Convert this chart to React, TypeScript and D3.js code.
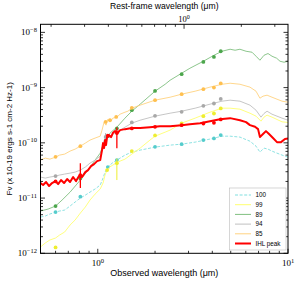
import React from 'react';
import * as d3 from 'd3';

const W = 299, H = 282;
const PL = 40.5, PR = 288, PT = 24.3, PB = 253.3;
const ONE_PLUS_Z = 2.842;

const seriesNames = ['100', '99', '89', '94', '85', 'IHL peak'];

// ---- spectra (observed wavelength in micron, flux) ----
const lam100 = [0.50,0.53,0.56,0.60,0.63,0.67,0.715,0.76,0.81,0.86,0.91,0.968,1.03,1.066,1.092,1.13,1.19,1.26,1.31,1.39,1.51,1.67,2.00,2.40,2.76,3.25,3.89,4.50,4.96,5.59,6.31,6.79,7.12,7.48,7.85,8.24,8.75,9.30,10];
const flux100 = [4.53e-12,4.73e-12,5.14e-12,5.58e-12,5.82e-12,6.07e-12,7.17e-12,8.47e-12,1.0e-11,1.13e-11,1.28e-11,1.46e-11,1.72e-11,2.30e-11,2.95e-11,3.64e-11,4.29e-11,4.87e-11,5.29e-11,6.0e-11,6.79e-11,7.38e-11,8.36e-11,9.09e-11,9.47e-11,1.03e-10,1.17e-10,1.32e-10,1.32e-10,1.27e-10,1.07e-10,8.71e-11,6.79e-11,8.02e-11,7.69e-11,7.08e-11,6.51e-11,6.0e-11,5.51e-11];

const lam99 = [0.50,0.53,0.56,0.60,0.63,0.67,0.715,0.76,0.81,0.86,0.91,0.968,1.03,1.066,1.092,1.119,1.16,1.20,1.248,1.31,1.39,1.51,1.67,1.88,2.00,2.26,2.40,2.76,3.25,3.89,4.50,4.96,5.59,6.31,6.79,7.21,7.48,7.76,8.24,8.75,9.30,10];
const flux99 = [1.30e-12,1.54e-12,1.74e-12,1.89e-12,2.14e-12,2.43e-12,3.25e-12,4.0e-12,5.35e-12,6.88e-12,9.2e-12,1.18e-11,1.46e-11,1.87e-11,2.61e-11,3.21e-11,3.68e-11,3.95e-11,4.29e-11,4.67e-11,5.07e-11,6.25e-11,8.02e-11,1.12e-10,1.32e-10,1.56e-10,1.70e-10,2.27e-10,2.80e-10,3.59e-10,4.24e-10,4.24e-10,4.07e-10,3.44e-10,3.04e-10,2.47e-10,2.92e-10,3.17e-10,2.92e-10,2.65e-10,2.40e-10,2.34e-10];

const lam89 = [0.50,0.548,0.60,0.649,0.715,0.81,0.889,0.968,1.03,1.066,1.105,1.16,1.26,1.39,1.51,1.67,2.00,2.26,2.40,2.76,3.05,3.59,4.08,4.50,4.96,5.27,5.59,6.02,6.47,6.79,7.12,7.48,7.85,8.24,8.72,9.08,9.53,10];
const flux89 = [5.82e-12,6.32e-12,7.17e-12,9.2e-12,1.28e-11,2.12e-11,3.21e-11,4.87e-11,6.51e-11,9.09e-11,1.22e-10,1.50e-10,1.92e-10,2.80e-10,3.74e-10,5.01e-10,8.61e-10,1.15e-9,1.36e-9,1.82e-9,2.24e-9,3.0e-9,3.85e-9,4.55e-9,4.95e-9,4.75e-9,4.95e-9,4.55e-9,4.37e-9,3.70e-9,3.13e-9,3.85e-9,4.14e-9,3.70e-9,3.40e-9,3.0e-9,2.88e-9,3.0e-9];

const lam94 = [0.50,0.53,0.56,0.60,0.63,0.67,0.715,0.76,0.81,0.86,0.91,0.968,1.03,1.053,1.079,1.105,1.13,1.16,1.20,1.26,1.31,1.39,1.51,1.67,2.00,2.40,2.76,3.25,3.89,4.50,4.96,5.59,6.31,6.79,7.21,7.48,7.76,8.24,8.75,9.30,10];
const flux94 = [2.40e-11,2.30e-11,2.40e-11,2.50e-11,2.61e-11,2.72e-11,2.83e-11,2.95e-11,3.21e-11,3.64e-11,4.29e-11,4.87e-11,5.75e-11,7.38e-11,1.12e-10,1.28e-10,1.38e-10,1.22e-10,1.44e-10,1.56e-10,1.70e-10,1.92e-10,2.27e-10,2.57e-10,3.04e-10,3.44e-10,3.74e-10,4.24e-10,5.01e-10,5.68e-10,5.92e-10,5.68e-10,4.81e-10,3.90e-10,2.92e-10,3.40e-10,3.74e-10,3.30e-10,3.04e-10,2.80e-10,2.57e-10];

const lam85 = [0.50,0.53,0.56,0.60,0.63,0.67,0.715,0.76,0.81,0.86,0.91,0.968,1.03,1.053,1.079,1.105,1.13,1.16,1.20,1.26,1.31,1.39,1.44,1.51,1.67,2.00,2.40,2.76,3.25,3.89,4.50,4.96,5.59,6.31,6.79,7.12,7.39,7.76,8.24,8.75,9.30,10];
const flux85 = [4.87e-11,5.29e-11,5.07e-11,5.51e-11,6.0e-11,6.25e-11,7.08e-11,7.69e-11,8.71e-11,9.88e-11,1.12e-10,1.22e-10,1.32e-10,1.70e-10,2.37e-10,2.09e-10,2.68e-10,2.37e-10,2.80e-10,2.92e-10,3.30e-10,3.59e-10,3.74e-10,4.24e-10,4.81e-10,5.92e-10,6.70e-10,7.60e-10,8.61e-10,1.02e-9,1.15e-9,1.20e-9,1.15e-9,1.02e-9,8.61e-10,6.43e-10,7.0e-10,7.29e-10,6.70e-10,6.17e-10,5.68e-10,5.44e-10];

const lamIHL = [0.50,0.516,0.535,0.555,0.575,0.60,0.619,0.641,0.665,0.690,0.715,0.742,0.769,0.797,0.827,0.86,0.889,0.922,0.956,0.992,1.03,1.053,1.066,1.079,1.092,1.105,1.119,1.146,1.175,1.20,1.233,1.27,1.31,1.39,1.51,1.67,1.88,2.12,2.40,2.76,3.05,3.45,3.89,4.39,4.96,5.59,6.02,6.31,6.71,6.96,7.12,7.39,7.66,7.95,8.34,8.75,9.19,9.64,10];
const fluxIHL = [1.87e-11,1.72e-11,1.95e-11,1.65e-11,1.87e-11,2.03e-11,1.79e-11,2.12e-11,1.87e-11,2.21e-11,1.95e-11,2.40e-11,2.03e-11,2.50e-11,2.40e-11,2.95e-11,3.21e-11,3.79e-11,4.12e-11,4.67e-11,4.87e-11,7.38e-11,9.88e-11,8.02e-11,1.12e-10,9.09e-11,1.27e-10,1.38e-10,1.27e-10,1.50e-10,1.63e-10,1.50e-10,1.70e-10,1.77e-10,1.85e-10,1.85e-10,1.92e-10,2.0e-10,2.0e-10,2.09e-10,2.18e-10,2.27e-10,2.47e-10,2.68e-10,2.80e-10,2.57e-10,2.37e-10,2.09e-10,1.95e-10,1.77e-10,1.27e-10,1.44e-10,1.63e-10,1.44e-10,1.22e-10,1.03e-10,1.03e-10,1.17e-10,1.20e-10];

// ---- photometry ----
const ptLam100 = [0.60,0.81,1.13,1.26,2.00,2.76,3.59,4.08,4.43];
const ptFlux100 = [5.58e-12,1.06e-11,3.64e-11,4.87e-11,8.47e-11,9.47e-11,1.12e-10,1.20e-10,1.38e-10];
const ptLam99 = [0.60,1.12,1.26,1.51,2.00,2.76,3.59,4.08,4.43];
const ptFlux99 = [1.28e-12,3.21e-11,4.29e-11,7.08e-11,1.36e-10,2.24e-10,3.04e-10,3.40e-10,4.19e-10];
const ptLam89 = [0.60,0.81,1.13,1.26,1.51,2.00,2.76,3.59,4.08,4.43];
const ptFlux89 = [7.17e-12,2.27e-11,1.32e-10,1.82e-10,3.90e-10,8.72e-10,1.75e-9,2.92e-9,3.59e-9,4.55e-9];
const ptLam94 = [0.60,1.10,1.51,2.00,2.76,3.59,4.08,4.43];
const ptFlux94 = [2.50e-11,1.28e-10,2.34e-10,3.08e-10,3.64e-10,4.67e-10,5.15e-10,6.25e-10];
const ptLam85 = [0.60,0.81,1.10,1.16,1.25,1.51,2.00,2.76,3.59,4.08,4.43];
const ptFlux85 = [5.58e-11,8.71e-11,2.40e-10,2.57e-10,2.95e-10,4.30e-10,5.92e-10,7.60e-10,9.36e-10,1.0e-9,1.19e-9];
const ptLamIHL = [0.60,0.81,1.13,1.26,1.51,2.00,2.76,3.59,4.08,4.43];
const ptFluxIHL = [2.0e-11,2.61e-11,1.35e-10,1.50e-10,1.82e-10,1.95e-10,2.09e-10,2.24e-10,2.30e-10,2.65e-10];

// error bars: [wavelength, low, high]
const err99 = [[1.26, 2.12e-11, 5.2e-11]];
const err94 = [[1.10, 9.5e-11, 1.5e-10]];
const errIHL = [[0.81, 1.52e-11, 4.29e-11], [1.26, 8.0e-11, 1.9e-10]];

const lineColors = ['#80dfdf', '#ffff70', '#80c080', '#c0c0c0', '#ffd280', '#ff0000'];
const dotColors = ['#55cccc', '#eeee30', '#4ca64c', '#a8a8a8', '#ffc050', '#ff0000'];

const series = [
  { lam: lam100, flux: flux100, pl: ptLam100, pf: ptFlux100, err: [] as number[][], dash: '3,1.6', w: 0.9 },
  { lam: lam99, flux: flux99, pl: ptLam99, pf: ptFlux99, err: err99, dash: null, w: 0.9 },
  { lam: lam89, flux: flux89, pl: ptLam89, pf: ptFlux89, err: [] as number[][], dash: null, w: 0.9 },
  { lam: lam94, flux: flux94, pl: ptLam94, pf: ptFlux94, err: err94, dash: null, w: 0.9 },
  { lam: lam85, flux: flux85, pl: ptLam85, pf: ptFlux85, err: [] as number[][], dash: null, w: 0.9 },
  { lam: lamIHL, flux: fluxIHL, pl: ptLamIHL, pf: ptFluxIHL, err: errIHL, dash: null, w: 2 },
];

const SANS = 'Liberation Sans, Arial, sans-serif';
const SERIF = 'Liberation Serif, DejaVu Serif, serif';

export default function App() {
  const x = d3.scaleLog().domain([0.5, 10]).range([PL, PR]);
  const xTop = d3.scaleLog().domain([0.5 / ONE_PLUS_Z, 10 / ONE_PLUS_Z]).range([PL, PR]);
  const y = d3.scaleLog().domain([1e-12, 1.4e-8]).range([PB, PT]);

  const isMajor = (v: number) => Math.abs(Math.log10(v) - Math.round(Math.log10(v))) < 1e-6;
  const xt = x.ticks();
  const xtt = xTop.ticks();
  const yt = y.ticks();
  const MAJ = 4.5, MIN = 2.5;

  const path = (s: typeof series[0]) => {
    const pts = s.lam.map((l, i) => [x(l), y(s.flux[i])] as [number, number]);
    return d3.line()(pts) || '';
  };

  const legendTop = 190;
  const rowH = 9.7;

  return (
    <svg width={W} height={H} style={{ position: 'absolute', left: 0, top: 0, background: '#fff' }}>
      <defs>
        <clipPath id="plotclip">
          <rect x={PL} y={PT} width={PR - PL} height={PB - PT} />
        </clipPath>
      </defs>
      <g clipPath="url(#plotclip)">
        {series.map((s, i) => (
          <g key={i}>
            <path d={path(s)} fill="none" stroke={lineColors[i]} strokeWidth={s.w}
              strokeDasharray={s.dash || undefined} strokeLinejoin="round" />
            {s.err.map((e, j) => (
              <line key={'e' + j} x1={x(e[0])} x2={x(e[0])} y1={y(e[1])} y2={y(e[2])}
                stroke={dotColors[i]} strokeWidth={i === 5 ? 1.3 : 1} />
            ))}
            {s.pl.map((l, j) => (
              <circle key={j} cx={x(l)} cy={y(s.pf[j])} r={1.9} fill={dotColors[i]} />
            ))}
          </g>
        ))}
      </g>

      {/* frame */}
      <rect x={PL} y={PT} width={PR - PL} height={PB - PT} fill="none" stroke="#000" strokeWidth={1} />

      {/* bottom ticks */}
      {xt.map((t, i) => {
        const L = isMajor(t) ? MAJ : MIN;
        return <line key={'xb' + i} x1={x(t)} x2={x(t)} y1={PB} y2={PB - L} stroke="#000" strokeWidth={0.8} />;
      })}
      {/* top ticks (rest frame) */}
      {xtt.map((t, i) => {
        const L = isMajor(t) ? MAJ : MIN;
        return <line key={'xt' + i} x1={xTop(t)} x2={xTop(t)} y1={PT} y2={PT + L} stroke="#000" strokeWidth={0.8} />;
      })}
      {/* y ticks left & right */}
      {yt.map((t, i) => {
        const L = isMajor(t) ? MAJ : MIN;
        return (
          <g key={'y' + i}>
            <line x1={PL} x2={PL + L} y1={y(t)} y2={y(t)} stroke="#000" strokeWidth={0.8} />
            <line x1={PR} x2={PR - L} y1={y(t)} y2={y(t)} stroke="#000" strokeWidth={0.8} />
          </g>
        );
      })}

      {/* tick labels */}
      {xt.filter(isMajor).map((t, i) => (
        <text key={'xl' + i} x={x(t)} y={266} textAnchor="middle" fontFamily={SERIF} fontSize={9}>
          <tspan>10</tspan>
          <tspan dy={-3.5} fontSize={6.5}>{String(Math.round(Math.log10(t)))}</tspan>
        </text>
      ))}
      {xtt.filter(isMajor).map((t, i) => (
        <text key={'xtl' + i} x={xTop(t)} y={22} textAnchor="middle" fontFamily={SERIF} fontSize={8.5}>
          <tspan>10</tspan>
          <tspan dy={-3} fontSize={6}>{String(Math.round(Math.log10(t)))}</tspan>
        </text>
      ))}
      {yt.filter(isMajor).map((t, i) => (
        <text key={'yl' + i} x={37} y={y(t) + 3} textAnchor="end" fontFamily={SERIF} fontSize={9}>
          <tspan>10</tspan>
          <tspan dy={-3.5} fontSize={6.5}>{'\u2212' + String(Math.abs(Math.round(Math.log10(t))))}</tspan>
        </text>
      ))}

      {/* axis titles */}
      <text x={(PL + PR) / 2} y={276} textAnchor="middle" fontFamily={SANS} fontSize={9}>Observed wavelength (μm)</text>
      <text x={(PL + PR) / 2} y={9} textAnchor="middle" fontFamily={SANS} fontSize={8.6}>Rest-frame wavelength (μm)</text>
      <text transform={`translate(12,${(PT + PB) / 2}) rotate(-90)`} textAnchor="middle" fontFamily={SANS} fontSize={8}>
        Fν (x 10-19 ergs s-1 cm-2 Hz-1)
      </text>

      {/* legend */}
      <rect x={229.5} y={legendTop - 2} width={56.5} height={62} fill="#fff" stroke="#bbb" strokeWidth={0.6} />
      {seriesNames.map((n, i) => {
        const yy = legendTop + 5 + i * rowH;
        return (
          <g key={'lg' + i}>
            <line x1={235} x2={251} y1={yy} y2={yy} stroke={lineColors[i]} strokeWidth={i === 5 ? 2 : 1}
              strokeDasharray={series[i].dash || undefined} />
            <text x={255.5} y={yy + 2.2} fontFamily={SANS} fontSize={6.3}>{n}</text>
          </g>
        );
      })}
    </svg>
  );
}
